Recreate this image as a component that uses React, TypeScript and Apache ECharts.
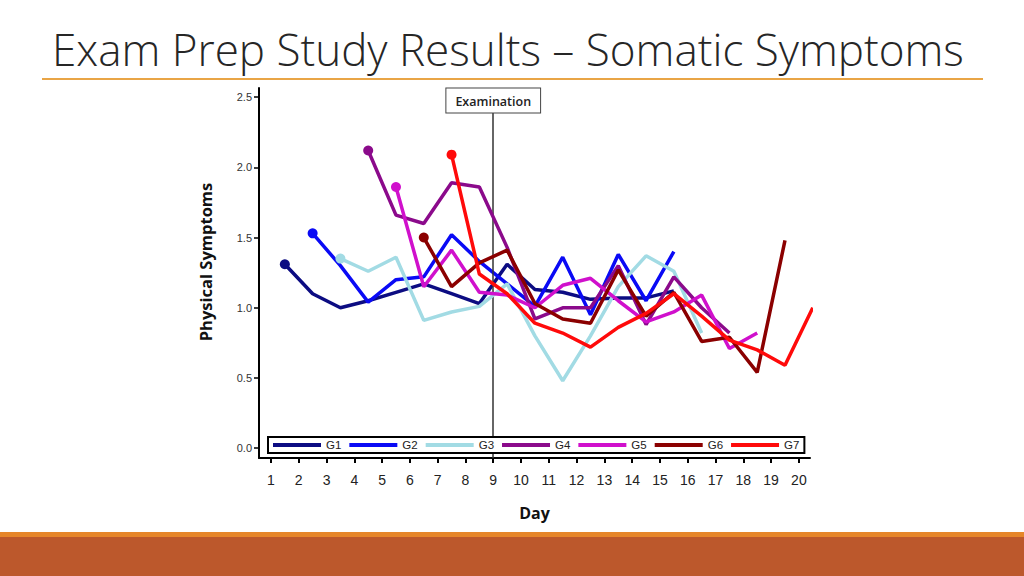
import React, { useEffect, useRef } from "react";
import * as echarts from "echarts";

// Data positions (mid-day) and tick labels
const DAYS = [1.5, 2.5, 3.5, 4.5, 5.5, 6.5, 7.5, 8.5, 9.5, 10.5, 11.5, 12.5, 13.5, 14.5, 15.5, 16.5, 17.5, 18.5, 19.5, 20.5];
const DAY_TICKS = [1, 2, 3, 4, 5, 6, 7, 8, 9, 10, 11, 12, 13, 14, 15, 16, 17, 18, 19, 20];
const Y_TICKS = [0, 0.5, 1.0, 1.5, 2.0, 2.5];
const GROUPS = ["G1", "G2", "G3", "G4", "G5", "G6", "G7"];
const COLORS = ["#0c0c82", "#0a0af5", "#a2dbe4", "#8b0a8b", "#d010cc", "#8b0000", "#ff0a0a"];

const G1 = [1.31, 1.10, 1.00, 1.05, 1.11, 1.17, 1.10, 1.03, 1.31, 1.13, 1.11, 1.06, 1.07, 1.07, 1.12, null, null, null, null, null];
const G2 = [null, 1.53, 1.30, 1.04, 1.20, 1.22, 1.52, 1.33, 1.17, 1.01, 1.36, 0.95, 1.38, 1.05, 1.40, null, null, null, null, null];
const G3 = [null, null, 1.35, 1.26, 1.36, 0.91, 0.97, 1.01, 1.17, 0.80, 0.48, 0.80, 1.15, 1.37, 1.26, 0.82, null, null, null, null];
const G4 = [null, null, null, 2.12, 1.66, 1.60, 1.89, 1.86, 1.43, 0.92, 1.00, 1.00, 1.30, 0.88, 1.22, 1.00, 0.82, null, null, null];
const G5 = [null, null, null, null, 1.86, 1.15, 1.41, 1.11, 1.09, 1.00, 1.16, 1.21, 1.05, 0.90, 0.97, 1.09, 0.71, 0.82, null, null];
const G6 = [null, null, null, null, null, 1.50, 1.15, 1.32, 1.41, 1.03, 0.92, 0.89, 1.27, 0.94, 1.11, 0.76, 0.79, 0.54, 1.48, null];
const G7 = [null, null, null, null, null, null, 2.09, 1.24, 1.10, 0.89, 0.82, 0.72, 0.86, 0.96, 1.10, 0.94, 0.77, 0.70, 0.59, 1.00];
const SERIES_VALUES = [G1, G2, G3, G4, G5, G6, G7];

const EXAM_DAY = 9;
const X_MIN = 0.57;
const X_MAX = 20.4;
const Y_MIN = -0.07;
const Y_MAX = 2.565;

export default function App() {
  const ref = useRef<HTMLDivElement>(null);

  useEffect(() => {
    if (!ref.current) return;
    const chart = echarts.init(ref.current, null, { renderer: "svg" });

    const series: any[] = SERIES_VALUES.map((vals, si) => {
      const first = vals.findIndex((v) => v !== null);
      const data: any[] = [];
      vals.forEach((v, i) => {
        if (v === null) return;
        const item: any = { value: [DAYS[i], v] };
        if (i === first) {
          item.symbol = "circle";
          item.symbolSize = 10;
        }
        data.push(item);
      });
      return {
        name: GROUPS[si],
        type: "line",
        data,
        symbol: "none",
        color: COLORS[si],
        lineStyle: { width: 3.5, color: COLORS[si] },
        itemStyle: { color: COLORS[si] },
        z: 3 + si,
      };
    });

    series.push({
      name: "exam",
      type: "line",
      data: [],
      markLine: {
        silent: true,
        symbol: "none",
        lineStyle: { color: "#333", width: 1.5, type: "solid" },
        label: {
          show: true,
          position: "end",
          distance: 0,
          formatter: "Examination",
          color: "#222",
          fontFamily: "Open Sans",
          fontWeight: 600,
          fontSize: 12.5,
          backgroundColor: "#fff",
          borderColor: "#444",
          borderWidth: 1,
          padding: [6, 9, 5, 9],
        },
        data: [[{ coord: [EXAM_DAY, Y_MIN] }, { coord: [EXAM_DAY, 2.39] }]],
      },
      z: 2,
    });

    chart.setOption({
      animation: false,
      backgroundColor: "#fff",
      grid: { left: 259, right: 214, top: 88, bottom: 118 },
      legend: {
        data: GROUPS,
        left: 268,
        top: 437,
        icon: "rect",
        itemWidth: 48,
        itemHeight: 4,
        itemGap: 8,
        padding: [2, 5, 2, 5],
        borderColor: "#000",
        borderWidth: 2,
        backgroundColor: "#fff",
        textStyle: { fontFamily: "Liberation Sans, Arial", fontSize: 11.5, color: "#222" },
        z: 10,
      },
      xAxis: {
        type: "value",
        min: X_MIN,
        max: X_MAX,
        name: "Day",
        nameLocation: "middle",
        nameGap: 47,
        nameTextStyle: { fontFamily: "Open Sans", fontWeight: "bold", fontSize: 16, color: "#111" },
        axisLine: { show: true, onZero: false, lineStyle: { color: "#000", width: 2 } },
        axisTick: { show: true, length: 5, lineStyle: { color: "#000", width: 2 }, customValues: DAY_TICKS },
        axisLabel: {
          customValues: DAY_TICKS,
          margin: 15,
          fontFamily: "Liberation Sans, Arial",
          fontSize: 14,
          color: "#222",
        },
        splitLine: { show: false },
      },
      yAxis: {
        type: "value",
        min: Y_MIN,
        max: Y_MAX,
        name: "Physical Symptoms",
        nameLocation: "middle",
        nameGap: 45,
        nameTextStyle: {
          fontFamily: "Open Sans",
          fontWeight: "bold",
          fontSize: 16.5,
          color: "#111",
          padding: [0, 0, 0, 22],
        },
        axisLine: { show: true, onZero: false, lineStyle: { color: "#000", width: 2 } },
        axisTick: { show: true, length: 5, lineStyle: { color: "#000", width: 1.5 }, customValues: Y_TICKS },
        axisLabel: {
          customValues: Y_TICKS,
          margin: 7,
          fontFamily: "Liberation Sans, Arial",
          fontSize: 11,
          color: "#333",
          formatter: (v: number) => v.toFixed(1),
        },
        splitLine: { show: false },
      },
      graphic: [
        {
          type: "text",
          left: 52,
          top: 27,
          style: {
            text: "Exam Prep Study Results – Somatic Symptoms",
            fontFamily: "Open Sans",
            fontWeight: 300,
            fontSize: 44,
            fill: "#262626",
          },
        },
        {
          type: "rect",
          shape: { x: 42, y: 78, width: 941, height: 2 },
          style: { fill: "#e9a546" },
        },
        {
          type: "rect",
          shape: { x: 0, y: 532, width: 1024, height: 5 },
          style: { fill: "#e6862a" },
        },
        {
          type: "rect",
          shape: { x: 0, y: 537, width: 1024, height: 39 },
          style: { fill: "#bc582c" },
        },
      ],
      series,
    });

    return () => chart.dispose();
  }, []);

  return (
    <div
      ref={ref}
      style={{ position: "fixed", left: 0, top: 0, width: 1024, height: 576 }}
    />
  );
}
